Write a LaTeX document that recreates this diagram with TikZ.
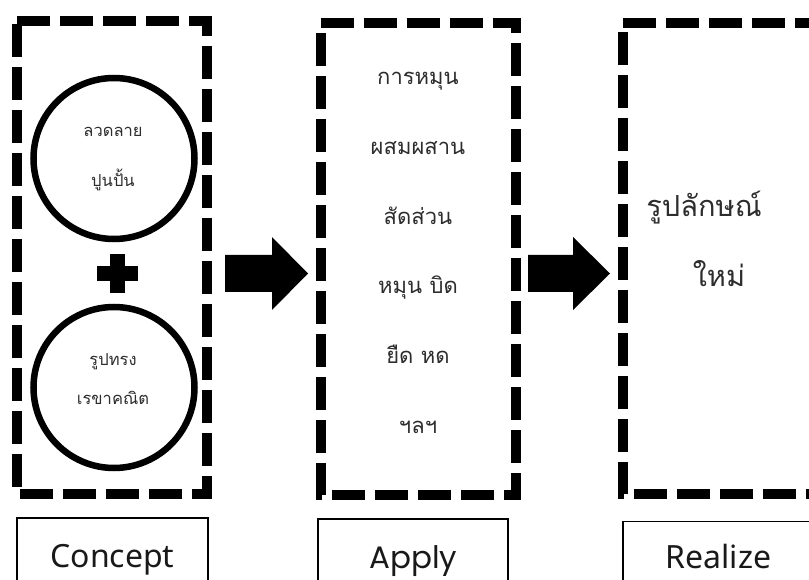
\documentclass[tikz,border=0pt]{standalone}
\usepackage{fontspec}
\newfontfamily\thaifont[Script=Thai]{Loma}
\newfontfamily\labfont{Noto Sans}
\newfontfamily\applyfont{Poppins}
\definecolor{txtgray}{RGB}{45,45,45}
\begin{document}
\begin{tikzpicture}[x=1pt,y=-1pt,
  dashframe/.style={line width=10pt, dash pattern=on 33pt off 10pt, line cap=butt, line join=miter},
  ring/.style={circle, draw, line width=6.5pt, minimum size=161pt, inner sep=0pt},
  labelbox/.style={draw, line width=1.6pt},
  smalltxt/.style={font=\thaifont\fontsize{16.5}{20}\selectfont, text=txtgray, inner sep=0pt, anchor=base},
  midtxt/.style={font=\thaifont\fontsize{22}{26}\selectfont, text=txtgray, inner sep=0pt, anchor=base},
  bigtxt/.style={font=\thaifont\fontsize{29}{34}\selectfont, text=txtgray, inner sep=0pt, anchor=base},
  labtxt/.style={font=\labfont\fontsize{32}{38}\selectfont, text=black!90, inner sep=0pt, anchor=base},
  applytxt/.style={font=\applyfont\fontsize{31}{36}\selectfont, text=black!90, inner sep=0pt, anchor=base},
  blockarrow/.style={fill=black}
]
\useasboundingbox (0,0) rectangle (809,580);
\clip (0,0) rectangle (809,580);
\fill[white] (0,0) rectangle (809,580);

% frames
\draw[dashframe] (17,21) -- (207,21) -- (207,494) -- (17,494) -- cycle;
\draw[dashframe] (320.5,23) -- (515.5,23) -- (515.5,494.5) -- (320.5,494.5) -- cycle;
\draw[dashframe] (623,23) -- (818,23) -- (818,494) -- (623,494) -- cycle;

% circles
\node[ring] (c1) at (114,158.5) {};
\node[ring] (c2) at (114,387.5) {};
\node[smalltxt] (c1a) at (113,137) {ลวดลาย};
\node[smalltxt] (c1b) at (113,187) {ปูนปั้น};
\node[smalltxt] (c2a) at (113,365) {รูปทรง};
\node[smalltxt] (c2b) at (113,404) {เรขาคณิต};

% plus
\fill (110,254) rectangle (125,293);
\fill (97,266) rectangle (138,281);

% apply texts
\node[midtxt] (a1) at (418,85) {การหมุน};
\node[midtxt] (a2) at (418,154.6) {ผสมผสาน};
\node[midtxt] (a3) at (418,224.2) {สัดส่วน};
\node[midtxt] (a4) at (418,293.8) {หมุน บิด};
\node[midtxt] (a5) at (418,363.4) {ยืด หด};
\node[midtxt] (a6) at (418,433) {ฯลฯ};

% realize texts
\node[bigtxt] (r1) at (704,217) {รูปลักษณ์};
\node[bigtxt] (r2) at (719,287) {ใหม่};

% arrows
\fill[blockarrow] (225,255) -- (272,255) -- (272,237) -- (308,273.5) -- (272,310) -- (272,292) -- (225,292) -- cycle;
\fill[blockarrow] (528,255) -- (573,255) -- (573,237) -- (610,273.5) -- (573,310) -- (573,292) -- (528,292) -- cycle;

% label boxes
\draw[labelbox] (17,590) -- (17,518) -- (208,518) -- (208,590);
\draw[labelbox] (318,590) -- (318,519) -- (508,519) -- (508,590);
\draw[labelbox] (623,590) -- (623,521.5) -- (820,521.5);
\node[labtxt] (l1) at (112.5,567) {Concept};
\node[applytxt] (l2) at (413.5,568) {Apply};
\node[labtxt] (l3) at (718.5,568) {Realize};
\end{tikzpicture}
\end{document}
